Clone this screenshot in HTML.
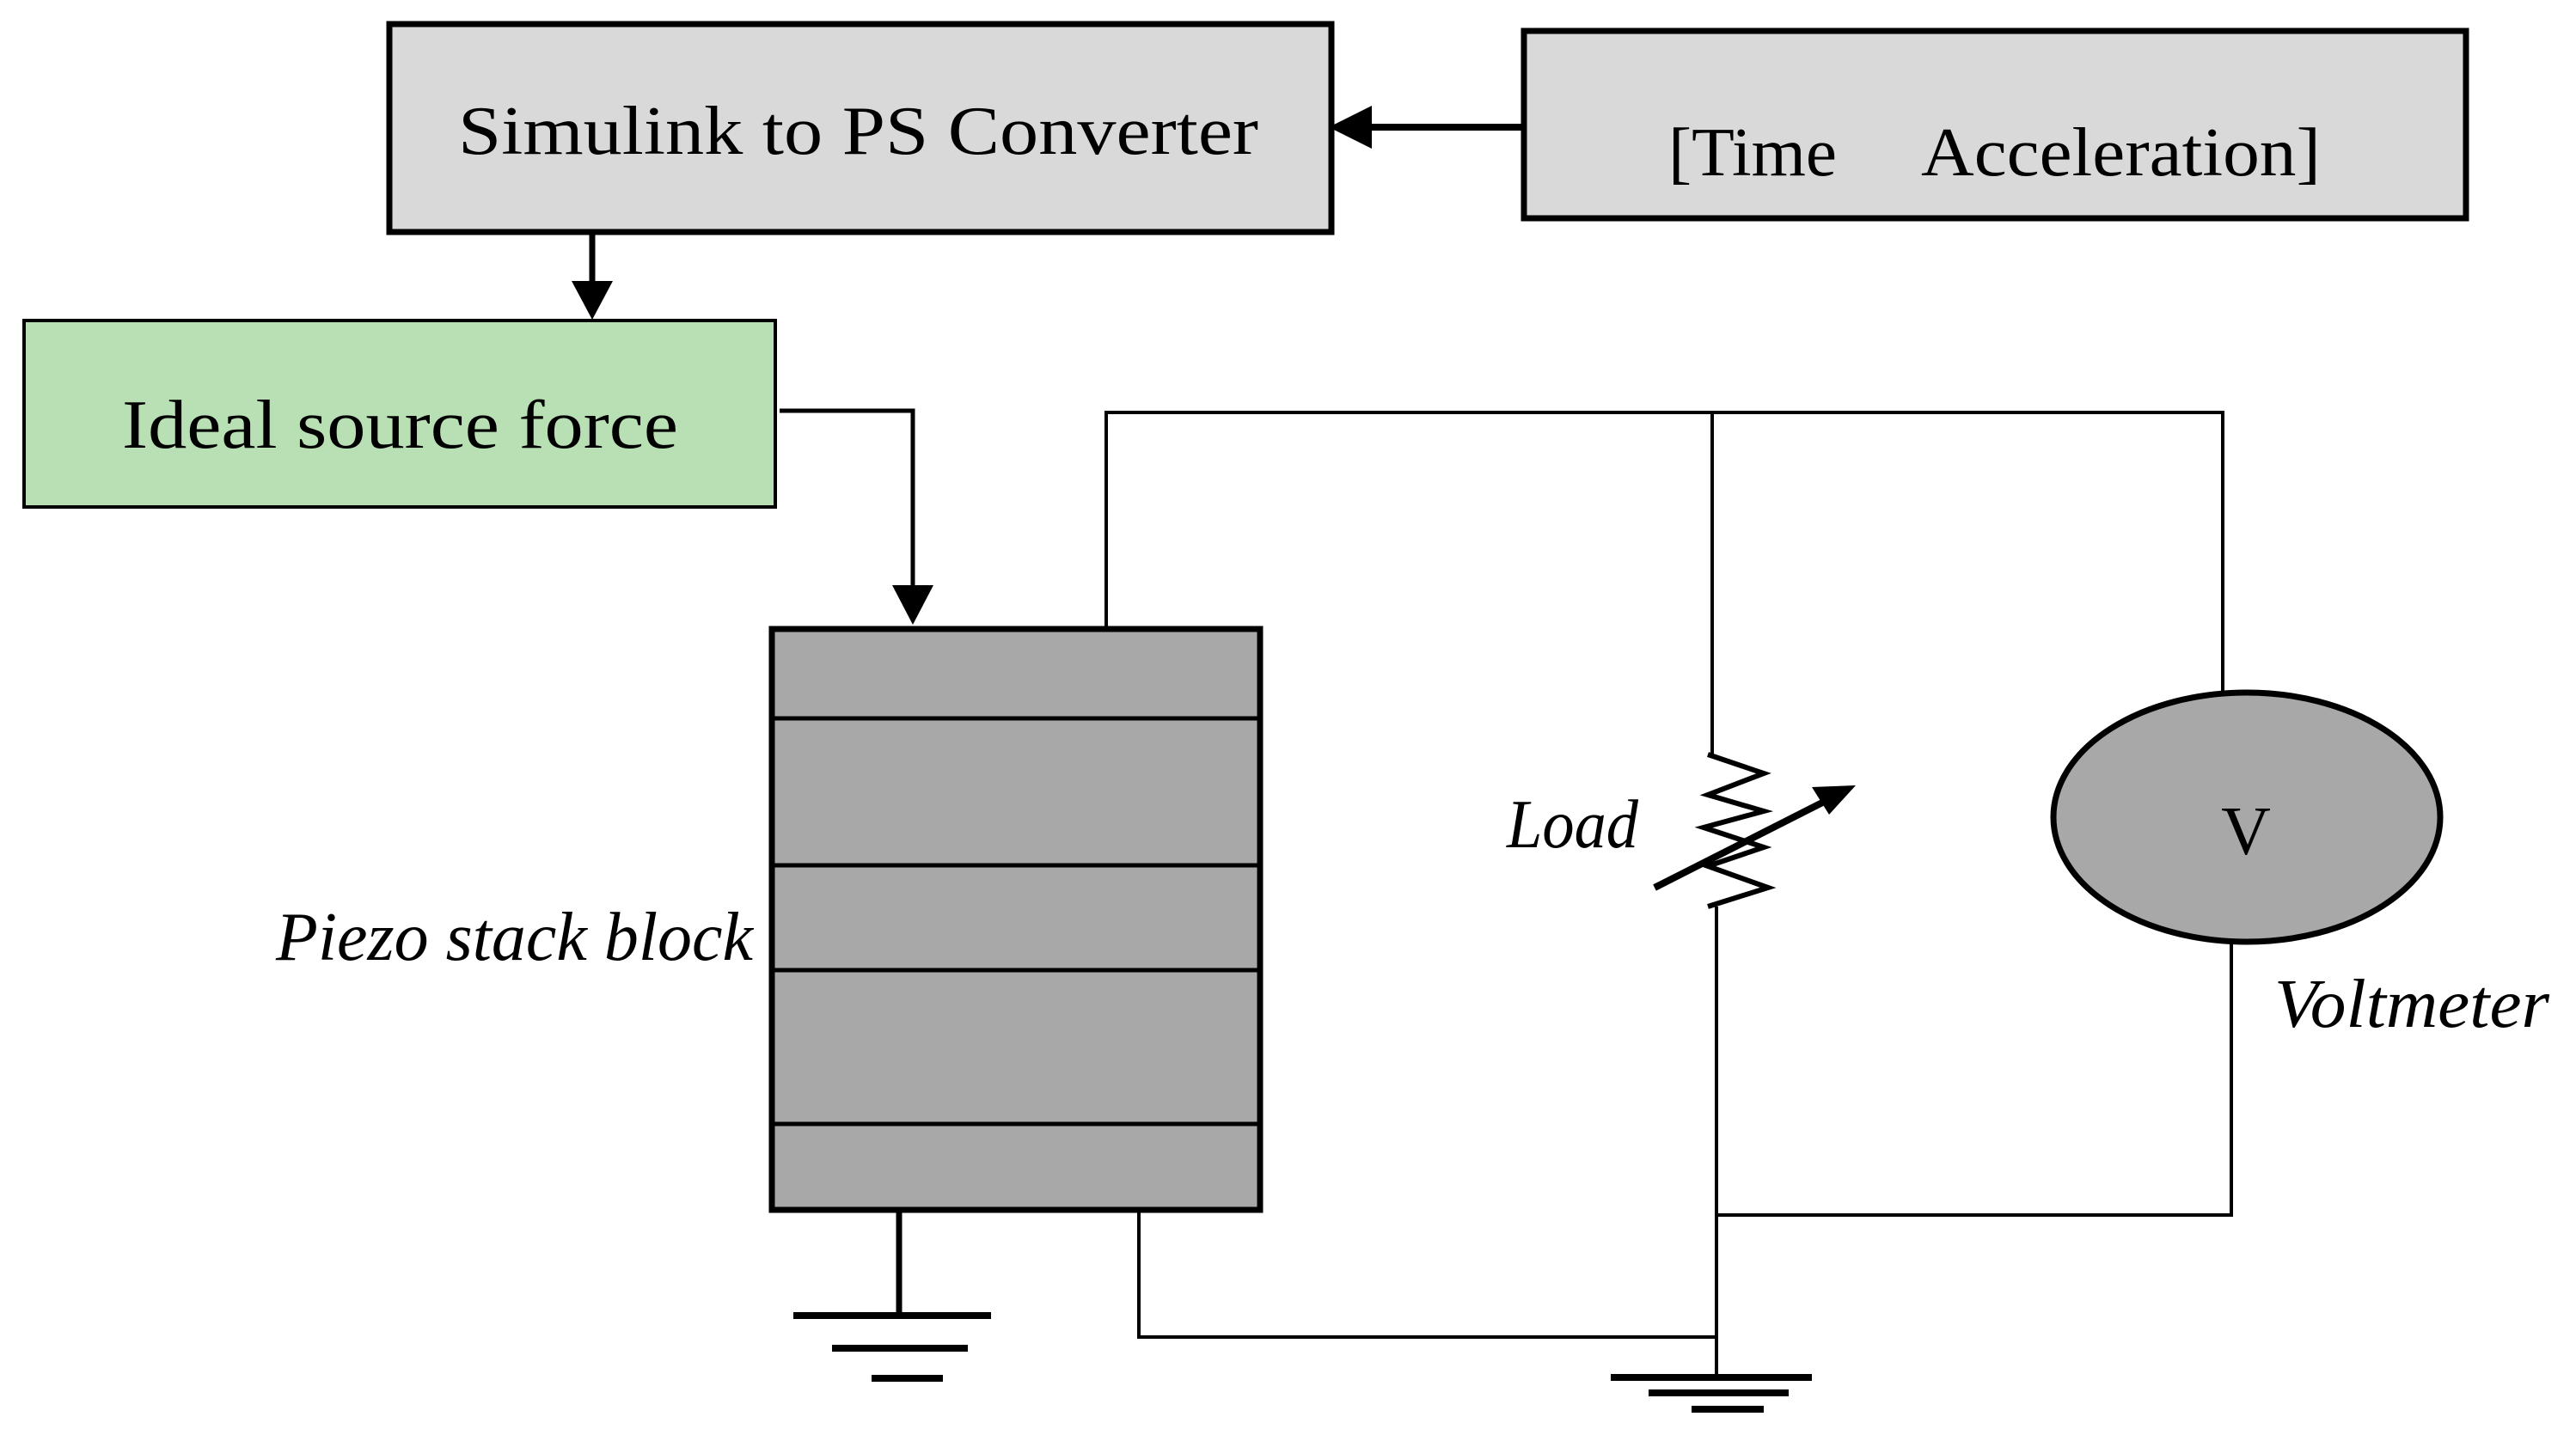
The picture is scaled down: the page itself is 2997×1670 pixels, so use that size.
<!DOCTYPE html>
<html><head><meta charset="utf-8"><style>html,body{margin:0;padding:0;background:#fff}svg{display:block}</style></head>
<body>
<svg width="2997" height="1670" viewBox="0 0 2997 1670" xmlns="http://www.w3.org/2000/svg" font-family="'Liberation Serif', serif">
<rect x="453" y="28" width="1096" height="242" fill="#d9d9d9" stroke="#000" stroke-width="7"/>
<text x="533" y="179" font-size="80" textLength="931" lengthAdjust="spacingAndGlyphs">Simulink to PS Converter</text>
<rect x="1773" y="36" width="1096" height="218" fill="#d9d9d9" stroke="#000" stroke-width="7"/>
<text x="1941" y="204" font-size="80" textLength="196" lengthAdjust="spacingAndGlyphs">[Time</text>
<text x="2235" y="204" font-size="80" textLength="465" lengthAdjust="spacingAndGlyphs">Acceleration]</text>
<line x1="1773" y1="148" x2="1590" y2="148" stroke="#000" stroke-width="8"/>
<polygon points="1546,148 1596,123 1596,173" fill="#000"/>
<line x1="689" y1="273" x2="689" y2="330" stroke="#000" stroke-width="7"/>
<polygon points="665,327 713,327 689,372" fill="#000"/>
<rect x="28" y="373" width="874" height="217" fill="#b9e0b4" stroke="#000" stroke-width="4"/>
<text x="142" y="521" font-size="80" textLength="647" lengthAdjust="spacingAndGlyphs">Ideal source force</text>
<polyline points="907,478 1062,478 1062,685" fill="none" stroke="#000" stroke-width="5"/>
<polygon points="1038,681 1086,681 1062,727" fill="#000"/>
<rect x="898" y="732" width="568" height="676" fill="#a8a8a8" stroke="#000" stroke-width="7"/>
<g stroke="#000" stroke-width="5">
<line x1="898" y1="836" x2="1466" y2="836"/>
<line x1="898" y1="1007" x2="1466" y2="1007"/>
<line x1="898" y1="1129" x2="1466" y2="1129"/>
<line x1="898" y1="1308" x2="1466" y2="1308"/>
</g>
<text x="321" y="1117" font-size="80" font-style="italic" textLength="555" lengthAdjust="spacingAndGlyphs">Piezo stack block</text>
<g fill="none" stroke="#000" stroke-width="4">
<polyline points="1287,729 1287,480 2586,480 2586,805"/>
<polyline points="1992,480 1992,878"/>
<polyline points="1325,1410 1325,1556 1997,1556"/>
<polyline points="1997,1055 1997,1603"/>
<polyline points="2596,1097 2596,1414 1997,1414"/>
</g>
<polyline points="1987,878 2052,900 1987,925 2052,944 1982,963 2052,986 1987,1008 2057,1033 1987,1055" fill="none" stroke="#000" stroke-width="6"/>
<line x1="1046" y1="1410" x2="1046" y2="1531" stroke="#000" stroke-width="7"/>
<g stroke="#000" stroke-width="8">
<line x1="923" y1="1531" x2="1153" y2="1531"/>
<line x1="968" y1="1569" x2="1126" y2="1569"/>
<line x1="1014" y1="1604" x2="1097" y2="1604"/>
</g>
<g stroke="#000" stroke-width="8">
<line x1="1874" y1="1603" x2="2108" y2="1603"/>
<line x1="1918" y1="1621" x2="2081" y2="1621"/>
<line x1="1968" y1="1640" x2="2052" y2="1640"/>
</g>
<line x1="1925" y1="1033" x2="2130" y2="929" stroke="#000" stroke-width="8"/>
<polygon points="2159,914 2108,916 2128,948" fill="#000"/>
<text x="1753" y="986" font-size="80" font-style="italic" textLength="153" lengthAdjust="spacingAndGlyphs">Load</text>
<ellipse cx="2614" cy="951" rx="225" ry="145" fill="#a8a8a8" stroke="#000" stroke-width="7"/>
<text x="2613" y="994" font-size="80" text-anchor="middle">V</text>
<text x="2646" y="1195" font-size="80" font-style="italic" textLength="320" lengthAdjust="spacingAndGlyphs">Voltmeter</text>
</svg>
</body></html>
